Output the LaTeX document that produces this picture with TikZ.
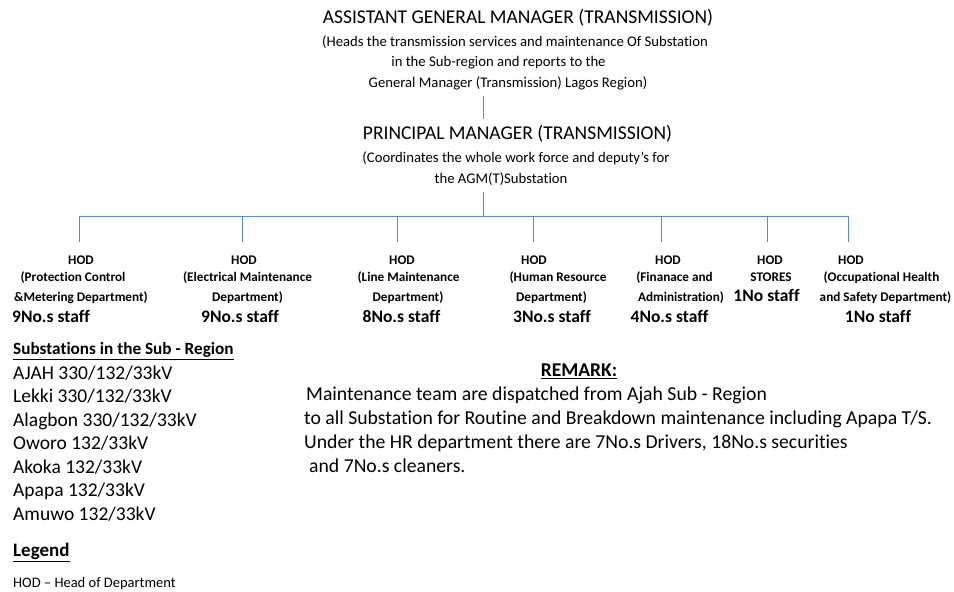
\documentclass[tikz,border=0pt]{standalone}
\usepackage{fontspec}
\setmainfont{Carlito}[Ligatures={NoCommon}]
\definecolor{linecol}{RGB}{91,139,205}
\begin{document}
\begin{tikzpicture}[x=1pt,y=-1pt,
  conn/.style={draw=linecol, line width=0.9pt},
  big/.style={inner sep=0pt, anchor=mid, font=\fontsize{19.5}{23}\selectfont},
  sub/.style={inner sep=0pt, anchor=mid, font=\fontsize{14.7}{17}\selectfont},
  hod/.style={inner sep=0pt, anchor=mid, font=\bfseries\fontsize{13.2}{15}\selectfont},
  staff/.style={inner sep=0pt, anchor=mid, font=\bfseries\fontsize{17.5}{20}\selectfont},
  lst/.style={inner sep=0pt, anchor=mid west, font=\fontsize{19.5}{23}\selectfont},
  rem/.style={inner sep=0pt, anchor=mid west, font=\fontsize{19.7}{23}\selectfont}]
\useasboundingbox (0,0) rectangle (954,592);
% top
\node[big] (agm) at (518,21.5) {ASSISTANT GENERAL MANAGER (TRANSMISSION)};
\node[sub] (agm1) at (515,44) {(Heads the transmission services and maintenance Of Substation};
\node[sub] (agm2) at (498.5,64) {in the Sub-region and reports to the};
\node[sub] (agm3) at (508,85) {General Manager (Transmission) Lagos Region)};
\node[big] (pm) at (517.5,137) {PRINCIPAL MANAGER (TRANSMISSION)};
\node[sub] (pm1) at (516,160) {(Coordinates the whole work force and deputy’s for};
\node[sub] (pm2) at (501,181) {the AGM(T)Substation};
% connectors
\coordinate (a1) at (483,96);
\coordinate (a2) at (483,119);
\coordinate (b1) at (483,192);
\coordinate (bus) at (483,216);
\draw[conn] (a1) -- (a2);
\draw[conn] (b1) -- (bus);
\coordinate (bl) at (79,216);
\coordinate (br) at (848,216);
\draw[conn] (bl) -- (br);
\foreach \n/\x in {1/79,2/242,3/397,4/533,5/661,6/767,7/848}{
  \coordinate (t\n) at (\x,216);
  \coordinate (d\n) at (\x,242);
  \draw[conn] (t\n) -- (d\n);
}
% HOD columns
\node[hod] (h1) at (81,262) {HOD};
\node[hod] (h1a) at (73,279) {(Protection Control};
\node[hod] (h1b) at (81,299) {\&Metering Department)};
\node[staff] (h1s) at (51,320) {9No.s staff};
\node[hod] (h2) at (244,262) {HOD};
\node[hod] (h2a) at (247.5,279) {(Electrical Maintenance};
\node[hod] (h2b) at (247.5,299) {Department)};
\node[staff] (h2s) at (240,320) {9No.s staff};
\node[hod] (h3) at (402,262) {HOD};
\node[hod] (h3a) at (408.5,279) {(Line Maintenance};
\node[hod] (h3b) at (408,299) {Department)};
\node[staff] (h3s) at (401.5,320) {8No.s staff};
\node[hod] (h4) at (534,262) {HOD};
\node[hod] (h4a) at (558,279) {(Human Resource};
\node[hod] (h4b) at (551.5,299) {Department)};
\node[staff] (h4s) at (552,320) {3No.s staff};
\node[hod] (h5) at (668,262) {HOD};
\node[hod] (h5a) at (674.5,279) {(Finanace and};
\node[hod] (h5b) at (681,299) {Administration)};
\node[staff] (h5s) at (669.5,320) {4No.s staff};
\node[hod] (h6) at (770,262) {HOD};
\node[hod] (h6a) at (771,279) {STORES};
\node[staff] (h6s) at (766.5,299.5) {1No staff};
\node[hod] (h7) at (851,262) {HOD};
\node[hod] (h7a) at (881.5,279) {(Occupational Health};
\node[hod] (h7b) at (885.5,299) {and Safety Department)};
\node[staff] (h7s) at (878,320) {1No staff};
% substations list
\node[inner sep=0pt, anchor=mid west, font=\bfseries\fontsize{17.2}{20}\selectfont] (subh) at (13,352) {\underline{Substations in the Sub - Region}};
\node[lst] (s1) at (13,377) {AJAH 330/132/33kV};
\node[lst] (s2) at (13,400.5) {Lekki 330/132/33kV};
\node[lst] (s3) at (13,424) {Alagbon 330/132/33kV};
\node[lst] (s4) at (13,447.5) {Oworo 132/33kV};
\node[lst] (s5) at (13,471) {Akoka 132/33kV};
\node[lst] (s6) at (13,494.5) {Apapa 132/33kV};
\node[lst] (s7) at (13,518) {Amuwo 132/33kV};
\node[inner sep=0pt, anchor=mid west, font=\bfseries\fontsize{19}{23}\selectfont] (leg) at (13,554) {\underline{Legend}};
\node[inner sep=0pt, anchor=mid west, font=\fontsize{14.5}{17}\selectfont] (legt) at (13,585) {HOD – Head of Department};
% remark
\node[inner sep=0pt, anchor=mid, font=\bfseries\fontsize{19.5}{23}\selectfont] (remh) at (579,374.5) {\underline{REMARK:}};
\node[rem] (r1) at (306,398) {Maintenance team are dispatched from Ajah Sub - Region};
\node[rem] (r2) at (304,422) {to all Substation for Routine and Breakdown maintenance including Apapa T/S.};
\node[rem] (r3) at (304,446) {Under the HR department there are 7No.s Drivers, 18No.s securities};
\node[rem] (r4) at (309,470) {and 7No.s cleaners.};
\end{tikzpicture}
\end{document}
